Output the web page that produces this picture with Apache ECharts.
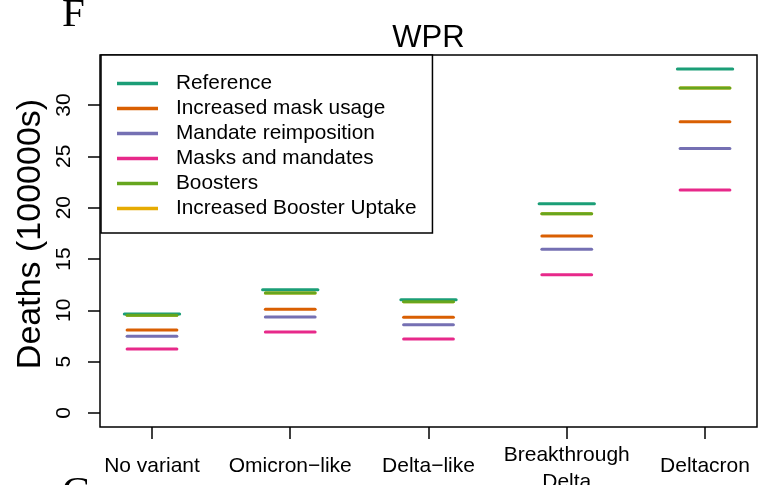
<!DOCTYPE html>
<html>
<head>
<meta charset="utf-8">
<script src="https://cdn.jsdelivr.net/npm/echarts@6/dist/echarts.min.js"></script>
<style>
  html, body { margin: 0; padding: 0; background: #fff; }
  #chart { width: 762px; height: 485px; }
</style>
</head>
<body>
<div id="chart"></div>
<script>
// 分类 / x 轴
var categories = ['No variant', 'Omicron\u2212like', 'Delta\u2212like', 'Breakthrough\nDelta', 'Deltacron'];
var xTicks = [1, 2, 3, 4, 5];
var yTicks = [0, 5, 10, 15, 20, 25, 30];

// 各情景死亡数 (100000s)
var reference     = [9.64, 12.01, 11.03, 20.38, 33.50];
var maskUsage     = [8.08, 10.10, 9.32, 17.23, 28.37];
var mandate       = [7.47, 9.35, 8.60, 15.94, 25.77];
var masksMandates = [6.23, 7.89, 7.21, 13.47, 21.71];
var boosters      = [9.51, 11.68, 10.84, 19.41, 31.65];
var boosterUptake = [9.51, 11.68, 10.84, 19.41, 31.65];

var seriesNames = ['Reference', 'Increased mask usage', 'Mandate reimposition',
  'Masks and mandates', 'Boosters', 'Increased Booster Uptake'];
var seriesValues = [reference, maskUsage, mandate, masksMandates, boosters, boosterUptake];
var colors = ['#1B9E77', '#D95F02', '#7570B3', '#E7298A', '#66A61E', '#E6AB02'];
var halfWidths = [0.2, 0.18, 0.18, 0.18, 0.18, 0.18];
var zOrder = [3, 3, 3, 3, 3, 2];

var FONT = "'Liberation Sans', Arial, sans-serif";
var SERIF = "'Liberation Serif', 'Times New Roman', serif";

function segRenderer(half) {
  return function(params, api) {
    var x = api.value(0), y = api.value(1);
    var p1 = api.coord([x - half, y]);
    var p2 = api.coord([x + half, y]);
    return {
      type: 'line',
      shape: { x1: p1[0], y1: p1[1], x2: p2[0], y2: p2[1] },
      style: { stroke: api.visual('color'), lineWidth: 3, lineCap: 'round' }
    };
  };
}

var series = seriesNames.map(function(name, i) {
  return {
    name: name,
    type: 'custom',
    z: zOrder[i],
    itemStyle: { color: colors[i] },
    renderItem: segRenderer(halfWidths[i]),
    data: seriesValues[i].map(function(v, j) { return [xTicks[j], v]; })
  };
});

var chart = echarts.init(document.getElementById('chart'));
chart.setOption({
  animation: false,
  backgroundColor: '#fff',
  grid: {
    left: 100, right: 5, top: 55, bottom: 58,
    outerBoundsMode: 'none',
    containLabel: false,
    show: true, borderColor: '#000', borderWidth: 1.5, backgroundColor: 'transparent'
  },
  xAxis: {
    type: 'value',
    min: 0.624, max: 5.376,
    axisLine: { show: false, onZero: false },
    splitLine: { show: false },
    axisTick: { show: true, length: 12, lineStyle: { color: '#000', width: 1.5 }, customValues: xTicks },
    axisLabel: {
      customValues: xTicks,
      margin: 39,
      verticalAlign: 'middle',
      fontFamily: FONT, fontSize: 21, lineHeight: 25, color: '#000',
      formatter: function(v) {
        var c = categories[Math.round(v) - 1];
        if (c.indexOf('\n') < 0) return c;
        // 两行标签: 顶部加一个小空行, 使其整体稍微下移
        return '{sp| }\n' + c.split('\n').map(function(s) { return '{m|' + s + '}'; }).join('\n');
      },
      rich: {
        sp: { fontSize: 1, lineHeight: 6 },
        m: { fontFamily: FONT, fontSize: 21, lineHeight: 27, color: '#000' }
      }
    }
  },
  yAxis: {
    type: 'value',
    min: -1.364, max: 34.87,
    axisLine: { show: false, onZero: false },
    splitLine: { show: false },
    axisTick: { show: true, length: 12, lineStyle: { color: '#000', width: 1.5 }, customValues: yTicks },
    axisLabel: {
      customValues: yTicks,
      rotate: 90,
      margin: 36,
      align: 'center', verticalAlign: 'middle',
      fontFamily: FONT, fontSize: 21, color: '#000'
    }
  },
  legend: {
    orient: 'vertical',
    left: 101, top: 55,
    padding: [16, 16, 12, 16],
    itemGap: 0,
    itemWidth: 41, itemHeight: 3.5,
    borderColor: '#000', borderWidth: 1.5,
    backgroundColor: '#fff',
    selectedMode: false,
    data: seriesNames.map(function(n, i) {
      return { name: n, icon: 'rect', itemStyle: { color: colors[i] } };
    }),
    textStyle: { fontFamily: FONT, fontSize: 20.8, lineHeight: 25, color: '#000', padding: [0, 0, 0, 13] }
  },
  graphic: [
    { type: 'text', x: 428.5, y: 38.5, style: { text: 'WPR', font: '31px ' + FONT, fill: '#000', align: 'center', verticalAlign: 'middle' } },
    { type: 'text', x: 62, y: 15, style: { text: 'F', font: '41px ' + SERIF, fill: '#000', align: 'left', verticalAlign: 'middle' } },
    { type: 'text', x: 62, y: 493, style: { text: 'G', font: '41px ' + SERIF, fill: '#000', align: 'left', verticalAlign: 'middle' } },
    { type: 'text', x: 31, y: 234, rotation: Math.PI / 2, style: { text: 'Deaths (100000s)', font: '34px ' + FONT, fill: '#000', align: 'center', verticalAlign: 'middle' } }
  ],
  series: series
});
</script>
</body>
</html>
